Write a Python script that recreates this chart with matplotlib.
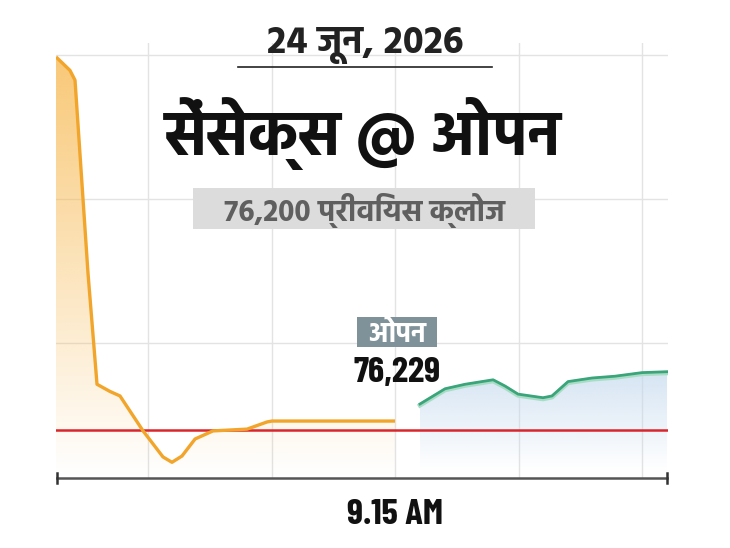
import numpy as np
import matplotlib
matplotlib.use("Agg")
import matplotlib.pyplot as plt
from matplotlib import font_manager
from matplotlib.colors import to_rgb
from matplotlib.patches import Rectangle

# data: x in grid steps relative to 9.15 AM, values = Sensex points
pre_x = [-2.745, -2.632, -2.591, -2.486, -2.413, -2.308, -2.227, -2.040, -1.879,
         -1.806, -1.725, -1.619, -1.474, -1.198, -1.036, -0.996, 0.0]
pre_y = [76616, 76601, 76590, 76375, 76251, 76243, 76238, 76199, 76170,
         76164, 76171, 76190, 76199, 76201, 76209, 76210, 76210]
open_x = [0.202, 0.405, 0.567, 0.794, 0.891, 0.996, 1.198, 1.271, 1.401,
          1.595, 1.781, 2.0, 2.202]
open_y = [76229, 76246, 76251, 76256, 76249, 76240, 76236, 76238, 76254,
          76258, 76260, 76264, 76265]
prev_close = 76200
open_value = 76229

ttf = font_manager.fontManager.ttflist
avail = {f.name for f in ttf}


def pick(*names):
    return [n for n in names if n in avail][:1] + ["DejaVu Sans"]


def pick_bold(*names):
    for n in names:
        if any(f.name == n and isinstance(f.weight, int) and f.weight >= 600 for f in ttf):
            return [n, "DejaVu Sans"]
    return pick("Fjalla One", "Oswald")


deva = pick("Hind", "Mukta", "Yantramanav", "Noto Sans Devanagari", "Poppins")
narrow = pick_bold("Oswald", "Barlow Condensed", "Roboto Condensed", "Archivo Narrow")

W, H = 730, 548
fig = plt.figure(figsize=(W / 100, H / 100), dpi=100)
ax = fig.add_axes([56 / W, 1 - 478 / H, (668 - 56) / W, (478 - 43) / H])

ymin, ymax = 76146.5, 76631.5
xmin, xmax = -2.745, 2.21


def gradient_fill(ax, x, y, color, a_top, a_bot, y_bot):
    x = np.asarray(x, float)
    y = np.asarray(y, float)
    poly = ax.fill_between(x, y, y_bot, facecolor="none", edgecolor="none")
    path = poly.get_paths()[0]
    rgba = np.zeros((256, 1, 4))
    rgba[..., :3] = to_rgb(color)
    rgba[:, 0, 3] = np.linspace(a_top, a_bot, 256)
    im = ax.imshow(rgba, aspect="auto", origin="upper", zorder=1,
                   extent=[x.min(), x.max(), y_bot, y.max()])
    im.set_clip_path(path, transform=ax.transData)


gradient_fill(ax, pre_x, pre_y, "#f7b64a", 0.75, 0.0, ymin)
gradient_fill(ax, open_x, open_y, "#c4d9ee", 0.7, 0.0, ymin + 8)

# grid
for gx in [-2, -1, 0, 1, 2]:
    ax.axvline(gx, color="#e3e3e3", lw=1, zorder=0)
for gy in [76297, 76458, 76618]:
    ax.axhline(gy, color="#e3e3e3", lw=1, zorder=0)

ax.axhline(prev_close, color="#d9262c", lw=1.8, zorder=3)
ax.plot(pre_x, pre_y, color="#f2a52b", lw=2.4, solid_joinstyle="round",
        solid_capstyle="butt", zorder=4)
ax.plot(open_x, np.array(open_y) - 1.5, color="#a9dcc5", lw=3.2,
        solid_joinstyle="round", zorder=4)
ax.plot(open_x, open_y, color="#3aa57a", lw=2.0, solid_joinstyle="round", zorder=5)

ax.set_xlim(xmin, xmax)
ax.set_ylim(ymin, ymax)
for s in ax.spines.values():
    s.set_visible(False)
ax.set_xticks([])
ax.set_yticks([])


def fy(py):
    return 1 - py / H


def box(x0, y0, x1, y1, color):
    fig.add_artist(Rectangle((x0 / W, fy(y1)), (x1 - x0) / W, (y1 - y0) / H,
                             transform=fig.transFigure, fc=color, ec="none", zorder=5))


# x axis with end ticks
fig.add_artist(plt.Line2D([57 / W, 667 / W], [fy(478), fy(478)], color="#555555", lw=1.8))
for px in [57, 667]:
    fig.add_artist(plt.Line2D([px / W, px / W], [fy(473), fy(483)],
                              color="#333333", lw=1.8))

fig.text(365 / W, fy(46), "24 जून, 2026", ha="center", va="center",
         fontsize=27.5, fontweight="bold", color="#222222", family=deva)
fig.add_artist(plt.Line2D([238 / W, 492 / W], [fy(67), fy(67)], color="#222222", lw=1.2))
fig.text(363 / W, fy(134), "सेंसेक्स @ ओपन", ha="center", va="center",
         fontsize=44.5, fontweight="bold", color="#111111", family=deva)

box(193, 188, 535, 229, "#dcdcdc")
fig.text(364 / W, fy(211), "76,200 प्रीवियस क्लोज", ha="center", va="center",
         fontsize=21.5, fontweight="bold", color="#5f5f5f", family=deva, zorder=6)
box(357, 317, 437, 347, "#7f9199")
fig.text(397 / W, fy(334), "ओपन", ha="center", va="center",
         fontsize=20, fontweight="bold", color="white", family=deva, zorder=6)

fig.text(397 / W, fy(373), f"{open_value:,}", ha="center", va="center",
         fontsize=26.5, fontweight="bold", color="#111111", family=narrow)
fig.text(395 / W, fy(515), "9.15 AM", ha="center", va="center",
         fontsize=26.5, fontweight="bold", color="#111111", family=narrow)

fig.savefig("out.png", dpi=100)
